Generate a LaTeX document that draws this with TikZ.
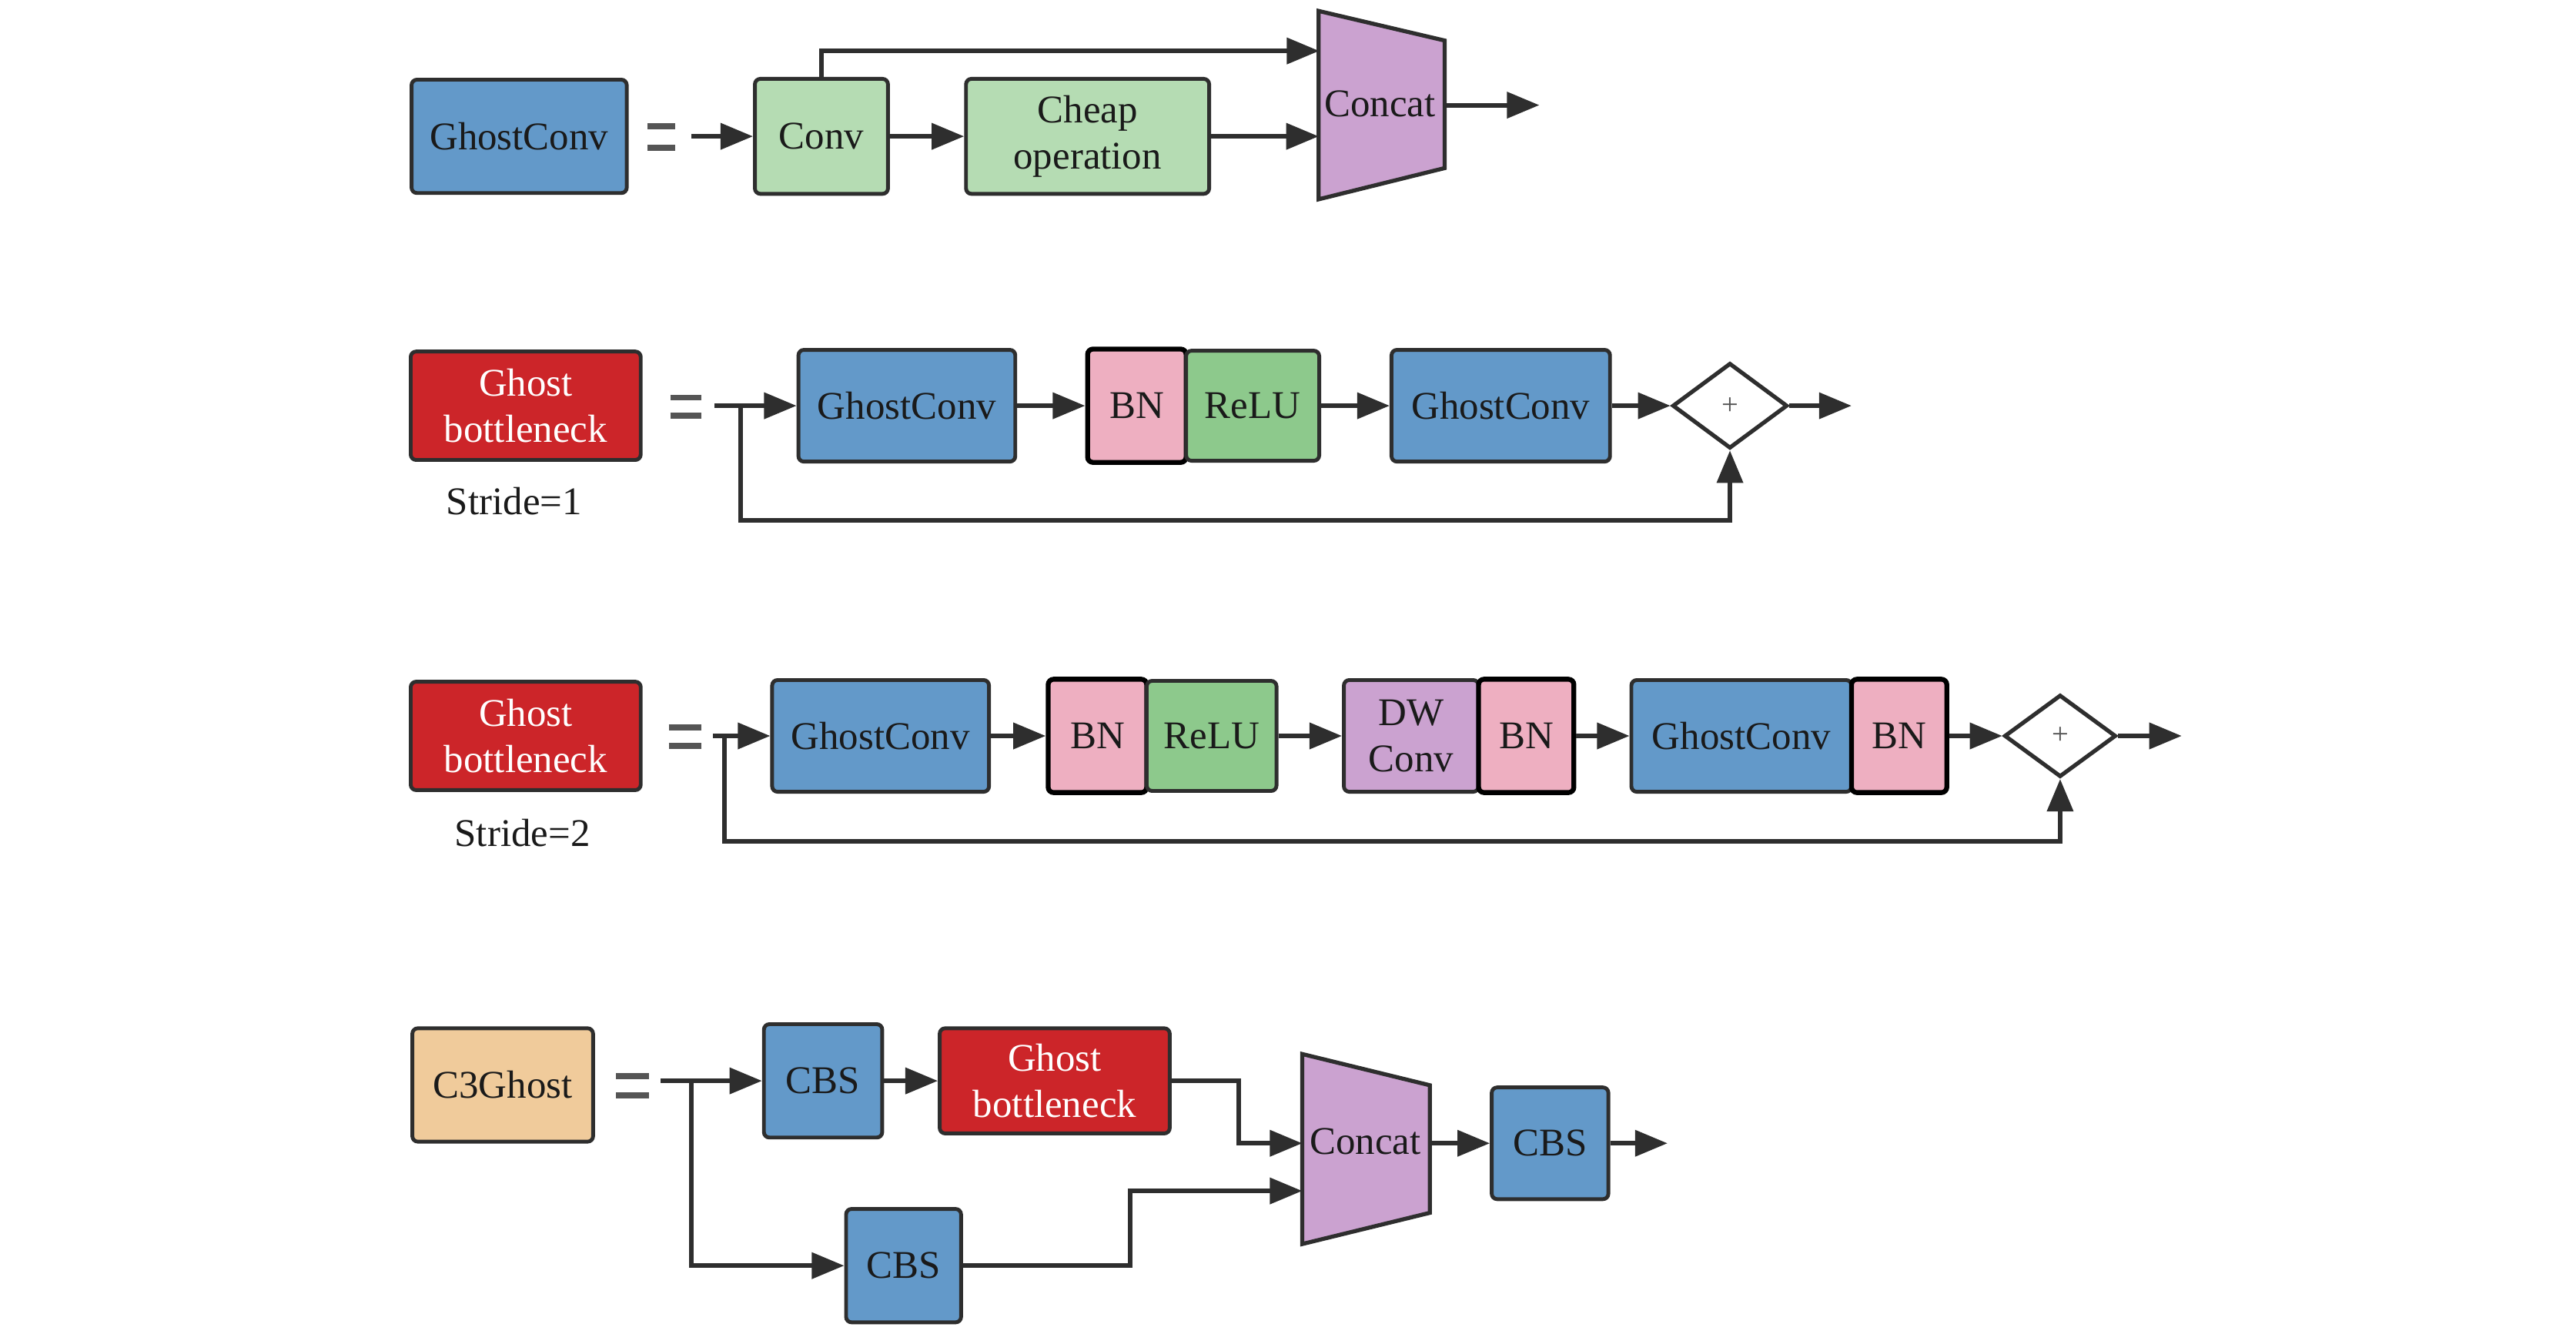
\documentclass[tikz,border=0pt]{standalone}
\usepackage{fontspec}
\setmainfont{Liberation Serif}
\usetikzlibrary{arrows.meta,shapes.geometric,calc}
\newdimen\unitpx \unitpx=0.02134cm
\newcommand\mainfnt{\fontsize{14.5}{17}\selectfont}
\definecolor{linec}{HTML}{2E2E2E}
\definecolor{eqc}{HTML}{555555}
\definecolor{txtc}{HTML}{1A1A1A}
\definecolor{blueC}{HTML}{6399C9}
\definecolor{lgreen}{HTML}{B5DCB3}
\definecolor{rgreen}{HTML}{8DC98C}
\definecolor{pinkC}{HTML}{EEAFC1}
\definecolor{purpC}{HTML}{CBA2D0}
\definecolor{redC}{HTML}{CC2529}
\definecolor{tanC}{HTML}{F0CB9B}
\begin{document}
\begin{tikzpicture}[x=0.02134cm, y=-0.02134cm,
  bx/.style={draw=linec, line width=1.4pt, rounded corners=2pt, inner sep=0pt, align=center, font=\mainfnt, text=txtc},
  bnbox/.style={bx, draw=black, line width=1.8pt, fill=pinkC},
  arr/.style={draw=linec, line width=1.7pt, -{Triangle[length=12pt,width=9.5pt]}},
  eqbar/.style={draw=eqc, line width=2.2pt},
  trap/.style={draw=linec, fill=purpC, line width=1.5pt, line join=miter},
  sum/.style={diamond, draw=linec, fill=white, line width=1.5pt, inner sep=0pt, text=eqc, font=\fontsize{11}{12}\selectfont},
  lbl/.style={font=\mainfnt, text=txtc, inner sep=0pt}]
\useasboundingbox (0,0) rectangle (1568,812);

% ---------- Row 1: GhostConv ----------
\node[bx, fill=blueC, minimum width=131\unitpx, minimum height=69\unitpx] (gc1) at (316,83) {GhostConv};
\draw[eqbar] (394,77) -- (411,77) (394,90) -- (411,90);
\node[bx, fill=lgreen, minimum width=81\unitpx, minimum height=70\unitpx] (conv) at (500,83) {Conv};
\node[bx, fill=lgreen, minimum width=148\unitpx, minimum height=70\unitpx] (cheap) at (662,83) {Cheap\\operation};
\node[minimum width=76\unitpx, minimum height=114\unitpx, inner sep=0pt] (cc1) at (841,64) {};
\draw[trap] (cc1.north west) -- ([yshift=-18\unitpx]cc1.north east) -- ([yshift=19\unitpx]cc1.south east) -- (cc1.south west) -- cycle;
\node[lbl] (cc1t) at (840,63) {Concat};
\coordinate (s1) at (421,83);
\coordinate (cc1in) at (803,31);
\coordinate (o1) at (937,64);
\draw[arr] (s1) -- (conv.west);
\draw[arr] (conv) -- (cheap);
\draw[arr] (cheap.east) -- (cheap.east -| cc1.west);
\draw[arr] (conv.north) |- (cc1in);
\draw[arr] (cc1.east) -- (o1);

% ---------- Row 2: Ghost bottleneck stride 1 ----------
\node[bx, fill=redC, text=white, minimum width=140\unitpx, minimum height=66\unitpx] (gb1) at (320,247) {Ghost\\bottleneck};
\node[lbl] (st1) at (313,305) {Stride=1};
\draw[eqbar] (408,242) -- (427,242) (408,253) -- (427,253);
\node[bx, fill=blueC, minimum width=132\unitpx, minimum height=68\unitpx] (gc2) at (552,247) {GhostConv};
\node[bnbox, minimum width=60\unitpx, minimum height=69\unitpx] (bn2) at (692,247) {BN};
\node[bx, fill=rgreen, minimum width=81\unitpx, minimum height=67\unitpx] (relu2) at (762.5,247) {ReLU};
\node[bx, fill=blueC, minimum width=133\unitpx, minimum height=68\unitpx] (gc3) at (913.5,247) {GhostConv};
\node[sum, minimum width=70\unitpx, minimum height=52\unitpx, aspect=1.35] (d1) at (1053,247) {+};
\coordinate (s2) at (435,247);
\coordinate (b2) at (451,247);
\coordinate (f2) at (451,317);
\coordinate (o2) at (1127,247);
\draw[arr] (s2) -- (gc2.west);
\draw[arr] (gc2) -- (bn2);
\draw[arr] (relu2) -- (gc3);
\draw[arr] (gc3) -- (d1);
\draw[arr] (d1) -- (o2);
\draw[arr] (b2) -- (f2) -| (d1.south);

% ---------- Row 3: Ghost bottleneck stride 2 ----------
\node[bx, fill=redC, text=white, minimum width=140\unitpx, minimum height=66\unitpx] (gb2) at (320,448) {Ghost\\bottleneck};
\node[lbl] (st2) at (318,507) {Stride=2};
\draw[eqbar] (407,443) -- (427,443) (407,454) -- (427,454);
\node[bx, fill=blueC, minimum width=132\unitpx, minimum height=68\unitpx] (gc4) at (536,448) {GhostConv};
\node[bnbox, minimum width=60\unitpx, minimum height=69\unitpx] (bn3) at (668,448) {BN};
\node[bx, fill=rgreen, minimum width=79\unitpx, minimum height=67\unitpx] (relu3) at (737.5,448) {ReLU};
\node[bx, fill=purpC, minimum width=82\unitpx, minimum height=68\unitpx] (dw) at (859,448) {DW\\Conv};
\node[bnbox, minimum width=58\unitpx, minimum height=69\unitpx] (bn4) at (929,448) {BN};
\node[bx, fill=blueC, minimum width=134\unitpx, minimum height=68\unitpx] (gc5) at (1060,448) {GhostConv};
\node[bnbox, minimum width=58\unitpx, minimum height=69\unitpx] (bn5) at (1156,448) {BN};
\node[sum, minimum width=68\unitpx, minimum height=50\unitpx, aspect=1.36] (d2) at (1254,448) {+};
\coordinate (s3) at (434,448);
\coordinate (b3) at (441,448);
\coordinate (f3) at (441,512);
\coordinate (o3) at (1328,448);
\draw[arr] (s3) -- (gc4.west);
\draw[arr] (gc4) -- (bn3);
\draw[arr] (relu3) -- (dw);
\draw[arr] (bn4) -- (gc5);
\draw[arr] (bn5) -- (d2);
\draw[arr] (d2) -- (o3);
\draw[arr] (b3) -- (f3) -| (d2.south);

% ---------- Row 4: C3Ghost ----------
\node[bx, fill=tanC, minimum width=110\unitpx, minimum height=69\unitpx] (c3) at (306,660.5) {C3Ghost};
\draw[eqbar] (375,655) -- (395,655) (375,667) -- (395,667);
\node[bx, fill=blueC, minimum width=72\unitpx, minimum height=69\unitpx] (cbs1) at (501,658) {CBS};
\node[bx, fill=redC, text=white, minimum width=140\unitpx, minimum height=64\unitpx] (gb3) at (642,658) {Ghost\\bottleneck};
\node[bx, fill=blueC, minimum width=70\unitpx, minimum height=69\unitpx] (cbs2) at (550,770.5) {CBS};
\node[minimum width=77\unitpx, minimum height=115\unitpx, inner sep=0pt] (cc2) at (831.5,699.5) {};
\draw[trap] (cc2.north west) -- ([yshift=-19\unitpx]cc2.north east) -- ([yshift=19\unitpx]cc2.south east) -- (cc2.south west) -- cycle;
\node[lbl] (cc2t) at (831,695) {Concat};
\node[bx, fill=blueC, minimum width=71\unitpx, minimum height=68\unitpx] (cbs3) at (943.5,696) {CBS};
\coordinate (s4) at (402,658);
\coordinate (b4) at (421,658);
\coordinate (k4) at (754,696);
\coordinate (k5) at (688,725);
\coordinate (o4) at (1015,696);
\draw[arr] (s4) -- (cbs1.west);
\draw[arr] (cbs1) -- (gb3);
\draw[arr] (b4) |- (cbs2.west);
\draw[arr] (gb3.east) -| (k4) -- (k4 -| cc2.west);
\draw[arr] (cbs2.east) -| (k5) -- (k5 -| cc2.west);
\draw[arr] (cbs3.west -| cc2.east) -- (cbs3.west);
\draw[arr] (cbs3.east) -- (o4);
\end{tikzpicture}
\end{document}
